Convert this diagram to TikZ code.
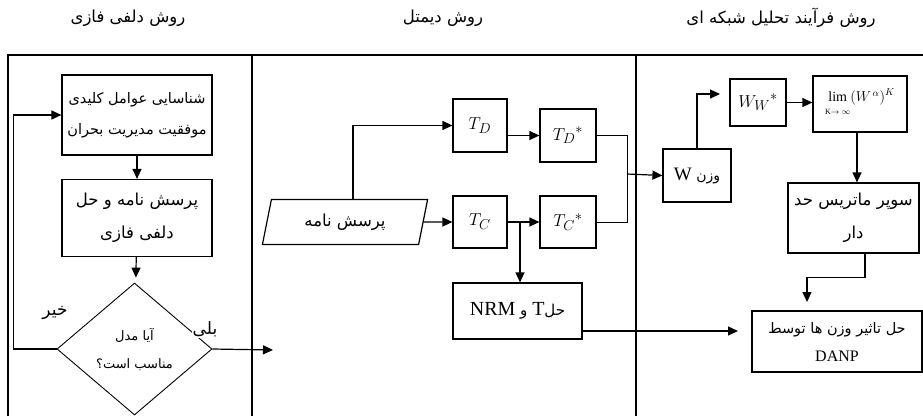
\documentclass[tikz,border=0pt]{standalone}
\usepackage{fontspec}
\setmainfont{Liberation Serif}
\newfontfamily\arabicfont[Script=Arabic]{DejaVu Sans}
\TeXXeTstate=1
\usetikzlibrary{arrows.meta, shapes.geometric}
\newcommand{\fa}[1]{{\arabicfont\beginR #1\endR}}

\begin{document}
\begin{tikzpicture}[x=1pt, y=-1pt,
  box/.style={rectangle, draw=black, line width=1.2pt, fill=white,
              align=center, inner sep=1pt},
  decbox/.style={diamond, draw=black, line width=0.9pt, align=center,
                 inner sep=0pt, font=\fontsize{13}{28}\selectfont},
  inbox/.style={trapezium, trapezium left angle=77, trapezium right angle=103,
                trapezium stretches=true, draw=black, line width=1.2pt,
                font=\fontsize{16.5}{18}\selectfont},
  frame/.style={line width=1.6pt},
  arr/.style={-{Triangle[length=10pt, width=9pt]}, line width=1.2pt},
  link/.style={line width=0.9pt},
  ttl/.style={font=\fontsize{16.5}{18}\selectfont},
  lbl/.style={fill=white, inner sep=1pt, font=\fontsize{17}{19}\selectfont}
]
\useasboundingbox (0,0) rectangle (923,416);

% lanes
\draw[frame] (8,416) -- (8,55) -- (923,55);
\draw[frame] (252,55) -- (252,416);
\draw[frame] (636,55) -- (636,416);
\node[ttl] (t1) at (128,18) {\fa{روش دلفی فازی}};
\node[ttl] (t2) at (443,18) {\fa{روش دیمتل}};
\node[ttl] (t3) at (781,18) {\fa{روش فرآیند تحلیل شبکه ای}};

% fuzzy delphi
\node[box, minimum width=150pt, minimum height=80pt,
      font=\fontsize{14.5}{31}\selectfont] (ident) at (137,115)
  {\fa{شناسایی عوامل کلیدی}\\ \fa{موفقیت مدیریت بحران}};
\node[box, minimum width=150pt, minimum height=77pt,
      font=\fontsize{16.5}{33}\selectfont] (quiz) at (137,218)
  {\fa{پرسش نامه و حل}\\ \fa{دلفی فازی}};
\node[decbox, minimum width=155pt, minimum height=132pt] (fit) at (134.5,349)
  {\fa{آیا مدل}\\ \fa{مناسب است؟}};
\node[lbl] (no) at (55,313) {\fa{خیر}};
\node[lbl] (yes) at (205,329) {\fa{بلی}};
\coordinate (yesend) at (273,350);

\draw[arr] (ident) -- (quiz);
\draw[arr, shorten >=6pt] (quiz) -- (fit);
\draw[arr] (fit.west) -- ++(-43,0) |- (ident.west);
\draw[arr] (fit.east) -- (yesend);

% dematel
\node[inbox, minimum width=166pt, minimum height=45pt] (qn) at (345,222)
  {\fa{پرسش نامه}};
\node[box, minimum width=54pt, minimum height=53pt,
      font=\fontsize{19}{21}\selectfont] (td) at (480,125.5) {$T_D$};
\node[box, minimum width=56pt, minimum height=53pt,
      font=\fontsize{19}{21}\selectfont] (tds) at (568,135.5) {$T_D{}^*$};
\node[box, minimum width=54pt, minimum height=52pt,
      font=\fontsize{19}{21}\selectfont] (tc) at (480,222) {$T_C$};
\node[box, minimum width=56pt, minimum height=52pt,
      font=\fontsize{19}{21}\selectfont] (tcs) at (568,222) {$T_C{}^*$};
\node[box, minimum width=129pt, minimum height=56pt,
      font=\fontsize{20}{22}\selectfont] (nrm) at (517.5,311)
  {{\arabicfont\beginR\fontsize{15}{17}\selectfont حل\beginL{\rmfamily\fontsize{20}{22}\selectfont T}\endL{} و \beginL{\rmfamily\fontsize{20}{22}\selectfont NRM}\endL\endR}};
\coordinate (split) at (520,222);
\coordinate (join) at (627,174);

\draw[arr] ([xshift=8pt]qn.north) |- (td.west);
\draw[arr] (qn.east) -- (tc.west);
\draw[arr] (td.east |- tds.west) -- (tds.west);
\draw[arr] (tc.east) -- (tcs.west);
\draw[arr] (split) -- (split |- nrm.north);
\draw[link] (tds.east) -| (join);
\draw[link] (tcs.east) -| (join);

% anp
\node[box, minimum width=68pt, minimum height=53pt,
      font=\fontsize{19}{21}\selectfont] (wt) at (697,175.5)
  {{\arabicfont\beginR\fontsize{14}{16}\selectfont وزن \beginL{\rmfamily\fontsize{19}{21}\selectfont W}\endL\endR}};
\node[box, minimum width=56pt, minimum height=47pt,
      font=\fontsize{19}{21}\selectfont] (ww) at (758,102.5) {$W_W{}^*$};
\node[box, minimum width=94pt, minimum height=56pt,
      font=\fontsize{14}{16}\selectfont] (lim) at (860,104)
  {\begin{tabular}[t]{@{}c@{}}lim\\[-3pt]{\fontsize{8}{9}\selectfont K$\to\infty$}\end{tabular}$\bigl(W^{\,\alpha}\bigr)^K$};
\node[box, minimum width=131pt, minimum height=70pt,
      font=\fontsize{16.5}{33}\selectfont] (sup) at (853.5,218)
  {\fa{سوپر ماتریس حد}\\ \fa{دار}};
\node[box, minimum width=170pt, minimum height=61pt,
      font=\fontsize{16}{28}\selectfont] (danp) at (837,341.5)
  {{\fontsize{14.5}{16}\selectfont\fa{حل تاثیر وزن ها توسط}}\\ DANP};
\coordinate (wwin) at (720,94);
\coordinate (danpin) at (738,331);
\coordinate (supin) at (807,302);

\draw[arr] (join) -- (wt.west);
\draw[arr] (nrm.east |- danpin) -- (danpin);
\draw[arr] (wt.north) |- (wwin);
\draw[arr] (ww.east) -- (ww.east -| lim.west);
\draw[arr] (lim.south -| 857,0) -- (sup.north -| 857,0);
\draw[arr] ([xshift=11.5pt]sup.south) -- ++(0,24) -| (supin);

\end{tikzpicture}
\end{document}
